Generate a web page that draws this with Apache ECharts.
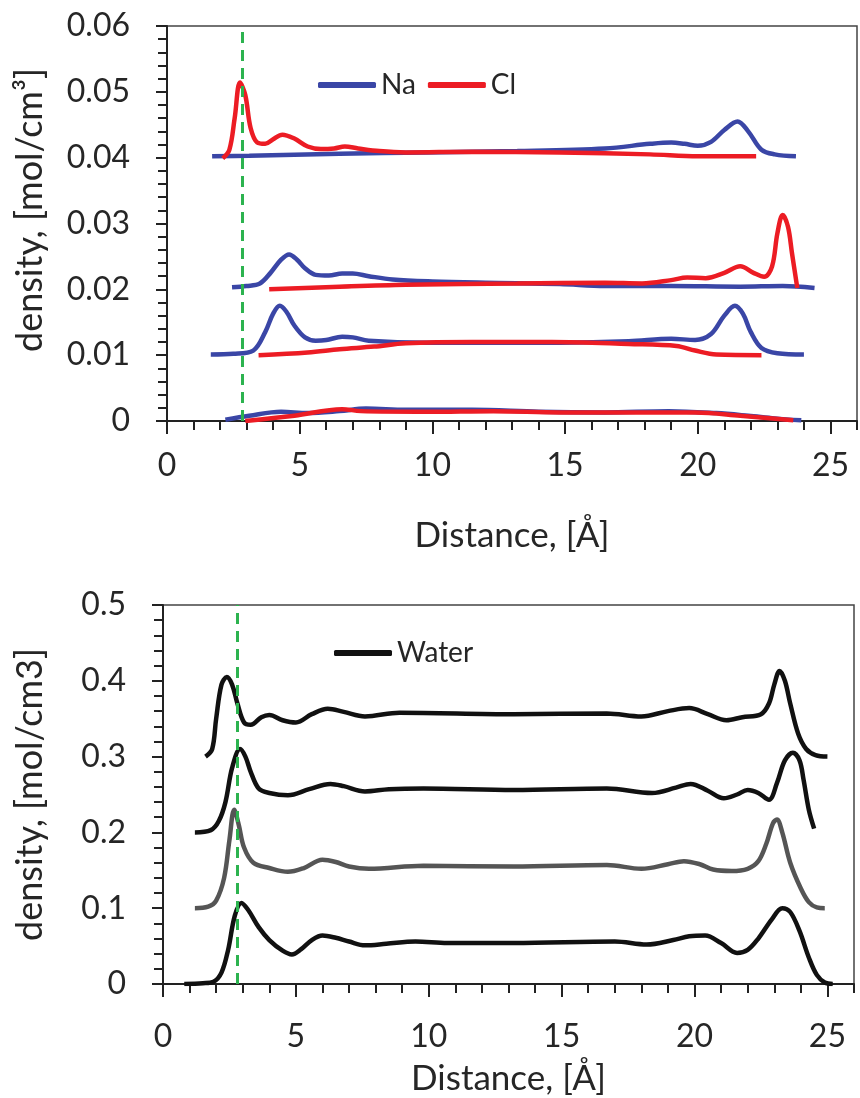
<!DOCTYPE html>
<html>
<head>
<meta charset="utf-8">
<script src="https://cdn.jsdelivr.net/npm/echarts@6/dist/echarts.min.js"></script>
<style>html,body{margin:0;padding:0;background:#fff}#c{width:860px;height:1098px}</style>
</head>
<body>
<div id="c"></div>
<script>
// ---- Data (x in Å, density) ----
const xTicksMajor = [0, 5, 10, 15, 20, 25];
const ionLegend = ['Na', 'Cl'];
const waterLegend = ['Water'];
const dashedX = [2.85, 2.8]; // top, bottom

const na40 = [[1.7,0.0402],[3.1,0.0403],[6.5,0.0406],[9.8,0.0408],[13.2,0.041],[16.5,0.0414],[18.2,0.0421],[19.0,0.0423],[19.5,0.0421],[20.0,0.0418],[20.5,0.0424],[21.0,0.0442],[21.5,0.0455],[21.9,0.044],[22.4,0.0412],[22.9,0.0405],[23.7,0.0402]];
const cl40 = [[2.1,0.0399],[2.35,0.0412],[2.55,0.046],[2.75,0.0514],[2.95,0.0495],[3.15,0.0445],[3.4,0.0423],[3.7,0.0421],[4.0,0.0428],[4.35,0.0435],[4.8,0.0429],[5.3,0.0417],[5.8,0.0413],[6.3,0.0414],[6.7,0.0417],[7.2,0.0414],[8.0,0.041],[9,0.0408],[11.5,0.0409],[14.8,0.0408],[18.2,0.0405],[20,0.0402],[22.2,0.0402]];
const na20 = [[2.45,0.0203],[3.0,0.0205],[3.5,0.0209],[3.9,0.0225],[4.3,0.0245],[4.6,0.0253],[4.9,0.0245],[5.2,0.0232],[5.6,0.0222],[6.1,0.0221],[6.6,0.0224],[7.0,0.0224],[7.6,0.022],[8.5,0.0215],[10,0.0212],[12,0.021],[14.8,0.0208],[16.5,0.0205],[19,0.0205],[21.6,0.0204],[23.2,0.0205],[24.4,0.0202]];
const cl20 = [[3.85,0.02],[6.5,0.0204],[9,0.0207],[13.2,0.0209],[16.5,0.021],[17.9,0.0209],[19.0,0.0214],[19.6,0.0218],[20.3,0.0217],[21.0,0.0225],[21.6,0.0235],[22.1,0.0225],[22.5,0.0219],[22.8,0.0235],[23.0,0.0285],[23.2,0.0313],[23.4,0.0295],[23.55,0.0255],[23.75,0.0202]];
const na10 = [[1.65,0.0101],[2.5,0.0102],[3.25,0.0107],[3.7,0.0135],[4.0,0.0163],[4.25,0.0175],[4.5,0.0166],[4.8,0.0145],[5.2,0.0127],[5.6,0.0122],[6.0,0.0123],[6.6,0.0128],[7.0,0.0127],[7.6,0.0122],[9.8,0.0119],[14.8,0.0119],[17.4,0.0121],[19.0,0.0125],[19.9,0.0123],[20.5,0.0132],[21.0,0.016],[21.4,0.0175],[21.7,0.0163],[22.0,0.0135],[22.4,0.0111],[23,0.0103],[24.0,0.0101]];
const cl10 = [[3.45,0.01],[5.3,0.0104],[6.5,0.0109],[7.8,0.0113],[9.0,0.0118],[11.5,0.012],[14.5,0.012],[17.4,0.0117],[19.2,0.0114],[19.9,0.0107],[20.7,0.0101],[22.4,0.01]];
const na0 = [[2.2,0.0002],[3.1,0.0008],[4.3,0.0014],[5.3,0.0012],[6.5,0.0015],[7.5,0.0019],[9,0.0017],[11.5,0.0017],[14,0.0014],[16.5,0.0013],[18.9,0.0015],[20.7,0.0012],[21.9,0.0008],[22.9,0.0004],[23.9,0.0001]];
const cl0 = [[2.95,0],[4.8,0.0008],[6.6,0.0018],[7.3,0.0015],[9.8,0.0014],[12.3,0.0015],[14.8,0.0013],[18.2,0.0013],[19.9,0.0013],[21.6,0.0008],[23.6,0.0001]];

const water0 = [[0.8,0],[1.5,0.001],[1.9,0.003],[2.2,0.015],[2.45,0.045],[2.7,0.09],[2.95,0.107],[3.2,0.098],[3.6,0.075],[4.0,0.058],[4.5,0.044],[4.85,0.039],[5.2,0.046],[5.6,0.058],[6.0,0.064],[6.5,0.061],[7.0,0.056],[7.6,0.051],[8.4,0.053],[9.5,0.056],[10.7,0.054],[13.2,0.054],[17.0,0.056],[18.2,0.052],[19.2,0.058],[19.8,0.063],[20.4,0.064],[21.0,0.054],[21.6,0.041],[22.0,0.045],[22.4,0.06],[22.9,0.085],[23.3,0.1],[23.6,0.095],[23.95,0.07],[24.3,0.035],[24.6,0.012],[24.9,0.002],[25.2,0]];
const water10 = [[1.2,0.1],[1.7,0.102],[2.0,0.11],[2.3,0.14],[2.5,0.19],[2.68,0.23],[2.85,0.21],[3.05,0.18],[3.4,0.16],[4.0,0.153],[4.7,0.148],[5.3,0.153],[6.0,0.164],[6.5,0.161],[7.0,0.155],[7.75,0.152],[9.8,0.156],[13.2,0.155],[16.7,0.157],[18.0,0.152],[19.0,0.158],[19.6,0.162],[20.2,0.158],[20.7,0.151],[21.4,0.149],[22.0,0.152],[22.4,0.162],[22.7,0.185],[22.95,0.212],[23.1,0.217],[23.3,0.2],[23.6,0.16],[24.0,0.126],[24.3,0.108],[24.6,0.101],[24.9,0.1]];
const water20 = [[1.2,0.2],[1.8,0.203],[2.1,0.215],[2.35,0.24],[2.6,0.285],[2.9,0.31],[3.1,0.3],[3.3,0.28],[3.6,0.258],[4.0,0.252],[4.7,0.249],[5.5,0.257],[6.3,0.264],[6.8,0.261],[7.6,0.254],[8.5,0.257],[9.8,0.258],[13.2,0.256],[16.7,0.258],[18.4,0.252],[19.3,0.259],[19.85,0.264],[20.5,0.255],[21.1,0.245],[21.6,0.25],[22.0,0.256],[22.4,0.252],[22.8,0.243],[23.1,0.265],[23.4,0.295],[23.7,0.305],[23.95,0.295],[24.1,0.27],[24.3,0.23],[24.5,0.205]];
const water30 = [[1.6,0.3],[1.85,0.31],[2.0,0.35],[2.2,0.395],[2.4,0.405],[2.6,0.395],[2.8,0.37],[3.05,0.345],[3.3,0.342],[3.7,0.352],[4.0,0.355],[4.5,0.348],[5.0,0.345],[5.6,0.356],[6.2,0.363],[6.8,0.359],[7.6,0.353],[8.9,0.358],[13.2,0.356],[16.7,0.357],[18.0,0.353],[19.0,0.36],[19.8,0.364],[20.5,0.356],[21.2,0.348],[21.8,0.352],[22.5,0.356],[22.8,0.37],[23.0,0.395],[23.2,0.413],[23.4,0.4],[23.6,0.37],[23.9,0.33],[24.2,0.31],[24.55,0.302],[25.0,0.3]];

// ---- Styling ----
const FONT = 'Lato';
const TXT = '#262626';
const BLUE = '#3a46a6';
const RED = '#ec1c24';
const GREEN = '#2cb34f';

function minorX(grid) {
  return {
    gridIndex: grid, type: 'value', min: 0, max: 26, interval: 1, position: 'bottom',
    axisLine: { show: true, lineStyle: { color: '#222', width: 2 } },
    axisTick: { show: true, length: 9, lineStyle: { color: '#222', width: 2 } },
    axisLabel: { show: false }, splitLine: { show: false }
  };
}
function majorX(grid, margin, gap) {
  return {
    gridIndex: grid, type: 'value', min: 0, max: 26, interval: 5, position: 'bottom',
    name: 'Distance, [Å]', nameLocation: 'middle', nameGap: gap,
    nameTextStyle: { fontFamily: FONT, fontSize: 35, color: TXT },
    axisLine: { show: false },
    axisTick: { show: true, length: 13, lineStyle: { color: '#222', width: 2 } },
    axisLabel: { show: true, margin: margin, fontFamily: FONT, fontSize: 32, color: TXT, showMaxLabel: false },
    splitLine: { show: false }
  };
}
function yAx(grid, max, interval, name, gap, pad) {
  return {
    gridIndex: grid, type: 'value', min: 0, max: max, interval: interval,
    name: name, nameLocation: 'middle', nameGap: gap,
    nameTextStyle: { fontFamily: FONT, fontSize: 36, color: TXT, padding: pad },
    axisLine: { show: true, lineStyle: { color: '#222', width: 2 } },
    axisTick: { show: true, length: 11, lineStyle: { color: '#222', width: 2 } },
    minorTick: { show: true, splitNumber: 5, length: 9, lineStyle: { color: '#222', width: 2 } },
    axisLabel: { margin: 37, fontFamily: FONT, fontSize: 32, color: TXT },
    splitLine: { show: false }, minorSplitLine: { show: false }
  };
}
function line(name, data, color, xi, yi, extra) {
  return Object.assign({
    type: 'line', name: name, data: data, xAxisIndex: xi, yAxisIndex: yi,
    showSymbol: false, symbol: 'none', smooth: 0.35,
    lineStyle: { color: color, width: 4.5 }, itemStyle: { color: color },
    z: 3, silent: true, animation: false
  }, extra || {});
}
function dashLine(x) {
  return {
    silent: true, symbol: 'none', label: { show: false },
    lineStyle: { color: GREEN, type: [11, 7], width: 3 },
    data: [{ xAxis: x }]
  };
}

const option = {
  animation: false,
  backgroundColor: '#fff',
  grid: [
    { left: 167, top: 26, width: 690, height: 395, show: true, borderColor: '#444', borderWidth: 1.5 },
    { left: 163, top: 605, width: 691, height: 379, show: true, borderColor: '#444', borderWidth: 1.5 }
  ],
  legend: [
    { data: ionLegend, left: 313, top: 66, icon: 'roundRect', itemWidth: 58, itemHeight: 6, itemGap: 12,
      textStyle: { fontFamily: FONT, fontSize: 28, color: TXT } },
    { data: waterLegend, left: 329, top: 634, icon: 'roundRect', itemWidth: 58, itemHeight: 6,
      textStyle: { fontFamily: FONT, fontSize: 28, color: TXT } }
  ],
  xAxis: [minorX(0), majorX(0, 29, 97), minorX(1), majorX(1, 37, 77)],
  yAxis: [
    yAx(0, 0.06, 0.01, 'density, [mol/cm³]', 119, [0, 0, 0, 27]),
    yAx(1, 0.5, 0.1, 'density, [mol/cm3]', 115, 0)
  ],
  series: [
    line('Na', na40, BLUE, 1, 0, { markLine: dashLine(dashedX[0]) }),
    line('Na', na20, BLUE, 1, 0),
    line('Na', na10, BLUE, 1, 0),
    line('Na', na0, BLUE, 1, 0),
    line('Cl', cl40, RED, 1, 0),
    line('Cl', cl20, RED, 1, 0),
    line('Cl', cl10, RED, 1, 0),
    line('Cl', cl0, RED, 1, 0),
    line('Water', water0, '#111', 3, 1, { markLine: dashLine(dashedX[1]) }),
    line('Water', water10, '#555', 3, 1),
    line('Water', water20, '#111', 3, 1),
    line('Water', water30, '#111', 3, 1)
  ]
};

const chart = echarts.init(document.getElementById('c'), null, { renderer: 'canvas' });
chart.setOption(option);
</script>
</body>
</html>
